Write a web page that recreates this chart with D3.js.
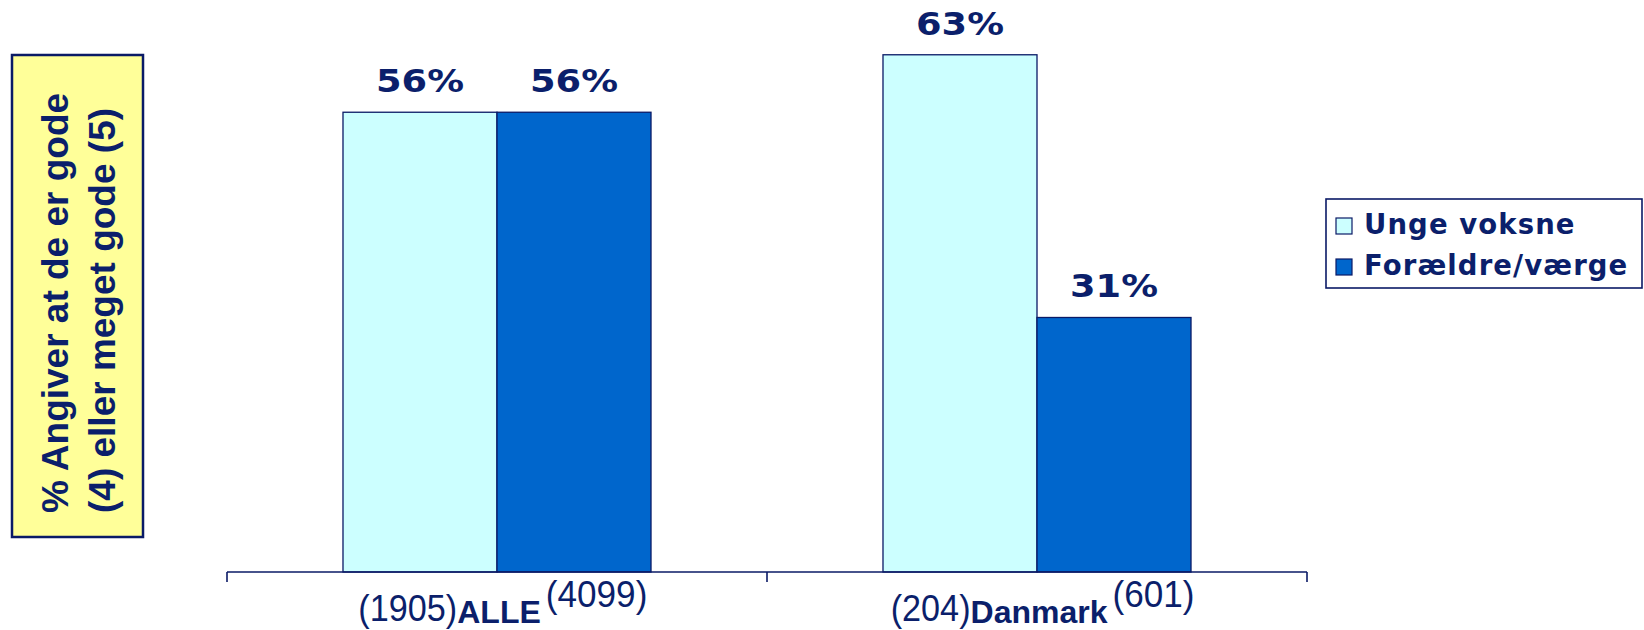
<!DOCTYPE html>
<html>
<head>
<meta charset="utf-8">
<script src="https://cdn.jsdelivr.net/npm/d3@7"></script>
<style>
  html, body { margin: 0; padding: 0; background: #ffffff; }
  svg { display: block; }
</style>
</head>
<body>
<svg id="chart" width="1644" height="630"></svg>
<script>
// ---- data ----
const categories = ["ALLE", "Danmark"];
const seriesNames = ["Unge voksne", "Forældre/værge"];
const ungeVoksne = [56, 63];
const foraeldre = [56, 31];
const nUnge = ["(1905)", "(204)"];
const nForaeldre = ["(4099)", "(601)"];
const yTitleLines = ["% Angiver at de er gode", "(4) eller meget gode (5)"];

const navy = "#0b1f6b";
const colors = ["#ccffff", "#0066cc"];

const svg = d3.select("#chart");

// ---- scales ----
const x0 = d3.scaleBand().domain(categories).range([227, 1307])
  .paddingInner(0.4296).paddingOuter(0.2148);
const x1 = d3.scaleBand().domain(seriesNames).range([0, x0.bandwidth()]).padding(0);
const y = d3.scaleLinear().domain([0, 70]).range([572, -2.7]);

const rows = categories.map((c, i) => ({
  cat: c,
  vals: [
    { s: seriesNames[0], v: ungeVoksne[i], idx: 0 },
    { s: seriesNames[1], v: foraeldre[i], idx: 1 }
  ]
}));

// ---- y-axis title box ----
svg.append("rect")
  .attr("x", 12).attr("y", 55).attr("width", 131).attr("height", 482)
  .attr("fill", "#ffff99").attr("stroke", "#0a1a66").attr("stroke-width", 2.5);

const tt = svg.append("g").attr("font-family", "'Liberation Sans', Arial, sans-serif")
  .attr("font-weight", "bold").attr("font-size", 37).attr("fill", navy);
yTitleLines.forEach((line, i) => {
  const bx = 68 + i * 47;
  tt.append("text")
    .attr("transform", `translate(${bx},513) rotate(-90)`)
    .attr("text-anchor", "start")
    .text(line);
});

// ---- bars ----
const g = svg.append("g");
const groups = g.selectAll("g.cat").data(rows).join("g")
  .attr("class", "cat")
  .attr("transform", d => `translate(${x0(d.cat)},0)`);

groups.selectAll("rect").data(d => d.vals).join("rect")
  .attr("x", d => x1(d.s))
  .attr("y", d => y(d.v))
  .attr("width", x1.bandwidth())
  .attr("height", d => y(0) - y(d.v))
  .attr("fill", d => colors[d.idx])
  .attr("stroke", "#0a1a66")
  .attr("stroke-width", 1.3);

groups.selectAll("text.lbl").data(d => d.vals).join("text")
  .attr("class", "lbl")
  .attr("x", d => x1(d.s) + x1.bandwidth() / 2 - 44)
  .attr("y", d => y(d.v) - 20)
  .attr("text-anchor", "start")
  .attr("font-family", "'DejaVu Sans', Verdana, sans-serif")
  .attr("font-weight", "bold")
  .attr("font-size", 32)
  .attr("fill", navy)
  .attr("textLength", 88)
  .attr("lengthAdjust", "spacingAndGlyphs")
  .text(d => d.v + "%");

// ---- x axis ----
const axis = svg.append("g").attr("stroke", "#0a1a66").attr("stroke-width", 1.6);
axis.append("line").attr("x1", x0.range()[0]).attr("x2", x0.range()[1])
  .attr("y1", y(0)).attr("y2", y(0));
const tickXs = [x0.range()[0]].concat(categories.map(c => x0(c) - x0.step() * x0.paddingInner() / 2 + x0.step()));
tickXs.forEach(tx => {
  axis.append("line").attr("x1", tx).attr("x2", tx).attr("y1", y(0)).attr("y2", y(0) + 10);
});

// ---- category labels ----
categories.forEach((c, i) => {
  const cx = x0(c) + x0.bandwidth() / 2;
  const name = svg.append("text")
    .attr("x", cx + 2).attr("y", 623)
    .attr("text-anchor", "middle")
    .attr("font-family", "'Liberation Sans', Arial, sans-serif")
    .attr("font-weight", "bold")
    .attr("font-size", 32)
    .attr("fill", navy)
    .text(c);
  const w = name.node().getComputedTextLength();
  svg.append("text")
    .attr("transform", `translate(${cx + 2 - w / 2},621) scale(0.95,1)`)
    .attr("text-anchor", "end")
    .attr("font-family", "'Liberation Sans Narrow', 'Liberation Sans', Arial, sans-serif")
    .attr("font-size", 36)
    .attr("fill", navy)
    .text(nUnge[i]);
  svg.append("text")
    .attr("transform", `translate(${cx + 2 + w / 2 + 5},607) scale(0.95,1)`)
    .attr("text-anchor", "start")
    .attr("font-family", "'Liberation Sans Narrow', 'Liberation Sans', Arial, sans-serif")
    .attr("font-size", 37)
    .attr("fill", navy)
    .text(nForaeldre[i]);
});

// ---- legend ----
const lg = svg.append("g");
lg.append("rect").attr("x", 1326).attr("y", 199).attr("width", 316).attr("height", 89)
  .attr("fill", "#ffffff").attr("stroke", "#0a1a66").attr("stroke-width", 1.6);
seriesNames.forEach((s, i) => {
  const ly = 218 + i * 41;
  lg.append("rect").attr("x", 1336).attr("y", ly).attr("width", 16).attr("height", 16)
    .attr("fill", colors[i]).attr("stroke", "#0a1a66").attr("stroke-width", 1.2);
  lg.append("text").attr("x", 1364).attr("y", ly + 16)
    .attr("font-family", "'DejaVu Sans', Verdana, sans-serif")
    .attr("font-weight", "bold").attr("font-size", 27.5)
    .attr("letter-spacing", 1.1)
    .attr("fill", navy)
    .text(s);
});
</script>
</body>
</html>
